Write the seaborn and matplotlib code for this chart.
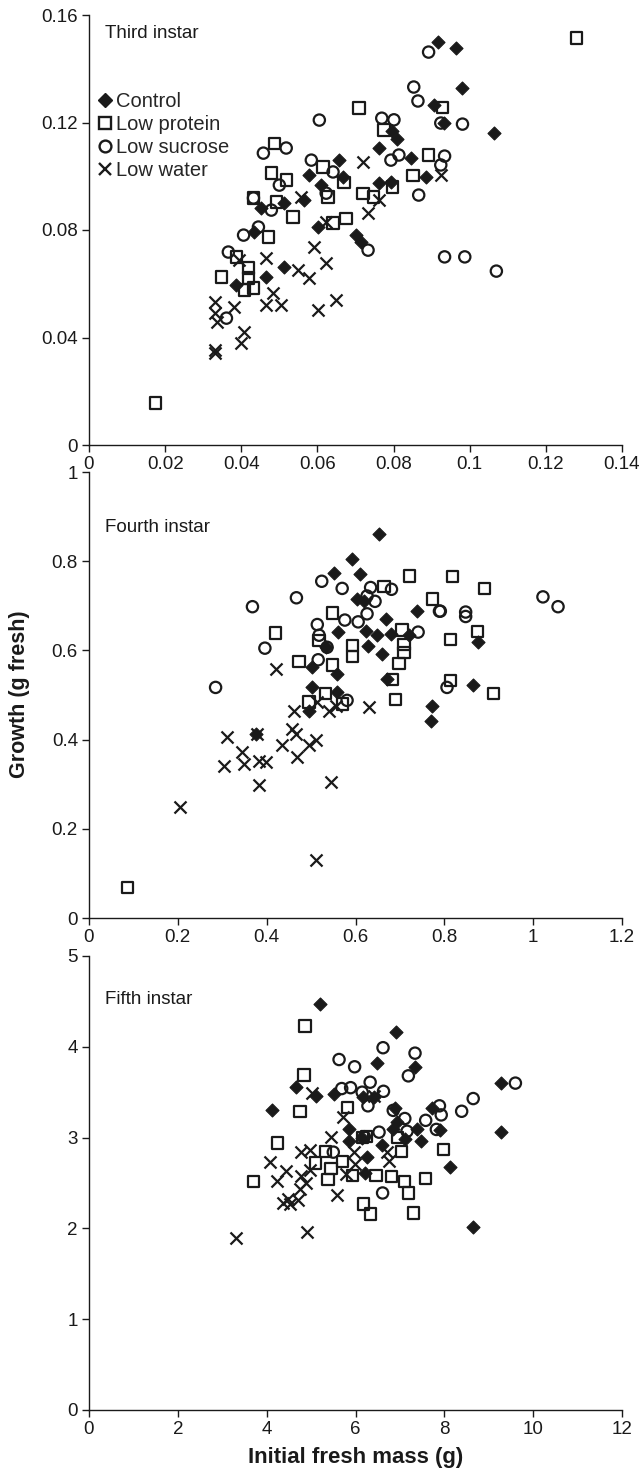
import numpy as np
import pandas as pd
import matplotlib
matplotlib.use("Agg")
import matplotlib.pyplot as plt
from matplotlib.lines import Line2D
import seaborn as sns

sns.set_theme(style="ticks")
plt.rcParams['font.family'] = ['Liberation Sans', 'DejaVu Sans']

treatments = ["Control", "Low protein", "Low sucrose", "Low water"]

# ---------------- Third instar ----------------
p1_control_x = [0.0762, 0.0657, 0.0578, 0.0667, 0.0610, 0.0762, 0.0565, 0.0513, 0.0453, 0.0602, 0.0701, 0.0714,
                0.0434, 0.0513, 0.0466, 0.0387, 0.0916, 0.0963, 0.0979, 0.0905, 0.0932, 0.1063, 0.0795, 0.0810,
                0.0845, 0.0885, 0.0793]
p1_control_y = [0.1105, 0.1060, 0.1004, 0.0997, 0.0967, 0.0975, 0.0911, 0.0900, 0.0882, 0.0811, 0.0780, 0.0755,
                0.0792, 0.0662, 0.0625, 0.0595, 0.1500, 0.1477, 0.1328, 0.1265, 0.1198, 0.1161, 0.1170, 0.1140,
                0.1068, 0.0997, 0.0978]
p1_protein_x = [0.1280, 0.0929, 0.0775, 0.0892, 0.0851, 0.0798, 0.0709, 0.0487, 0.0479, 0.0518, 0.0615, 0.0670,
                0.0628, 0.0720, 0.0748, 0.0675, 0.0641, 0.0536, 0.0492, 0.0432, 0.0471, 0.0387, 0.0419, 0.0348,
                0.0419, 0.0408, 0.0432, 0.0175]
p1_protein_y = [0.1514, 0.1257, 0.1172, 0.1079, 0.1004, 0.0960, 0.1254, 0.1123, 0.1012, 0.0986, 0.1034, 0.0978,
                0.0923, 0.0937, 0.0923, 0.0844, 0.0826, 0.0848, 0.0904, 0.0919, 0.0774, 0.0700, 0.0659, 0.0625,
                0.0621, 0.0577, 0.0584, 0.0156]
p1_sucrose_x = [0.0892, 0.0853, 0.0864, 0.0981, 0.0924, 0.0769, 0.0801, 0.0814, 0.0793, 0.0934, 0.0924, 0.0866,
                0.0934, 0.0987, 0.1070, 0.0605, 0.0458, 0.0518, 0.0584, 0.0641, 0.0500, 0.0623, 0.0432, 0.0479,
                0.0406, 0.0445, 0.0366, 0.0733, 0.0361]
p1_sucrose_y = [0.1462, 0.1332, 0.1280, 0.1194, 0.1198, 0.1216, 0.1210, 0.1079, 0.1060, 0.1075, 0.1042, 0.0930,
                0.0700, 0.0700, 0.0647, 0.1209, 0.1086, 0.1105, 0.1060, 0.1016, 0.0967, 0.0937, 0.0919, 0.0874,
                0.0781, 0.0811, 0.0718, 0.0725, 0.0472]
p1_water_x = [0.0720, 0.0557, 0.0623, 0.0733, 0.0762, 0.0591, 0.0623, 0.0466, 0.0395, 0.0550, 0.0578, 0.0484,
              0.0466, 0.0505, 0.0602, 0.0649, 0.0330, 0.0330, 0.0335, 0.0382, 0.0406, 0.0400, 0.0330, 0.0330,
              0.0924]
p1_water_y = [0.1053, 0.0923, 0.0829, 0.0863, 0.0911, 0.0737, 0.0677, 0.0696, 0.0688, 0.0651, 0.0621, 0.0565,
              0.0520, 0.0520, 0.0502, 0.0540, 0.0532, 0.0490, 0.0458, 0.0513, 0.0420, 0.0380, 0.0353, 0.0342,
              0.1004]

# ---------------- Fourth instar ----------------
p2_control_x = [0.653, 0.591, 0.551, 0.611, 0.604, 0.619, 0.668, 0.739, 0.561, 0.623, 0.649, 0.679, 0.720, 0.629,
                0.660, 0.533, 0.503, 0.559, 0.503, 0.559, 0.671, 0.495, 0.773, 0.771, 0.876, 0.865, 0.375]
p2_control_y = [0.860, 0.805, 0.773, 0.771, 0.715, 0.710, 0.670, 0.688, 0.642, 0.644, 0.634, 0.636, 0.634, 0.609,
                0.591, 0.607, 0.563, 0.547, 0.519, 0.507, 0.535, 0.464, 0.476, 0.442, 0.618, 0.523, 0.413]
p2_protein_x = [0.086, 0.420, 0.722, 0.664, 0.548, 0.518, 0.593, 0.593, 0.705, 0.709, 0.709, 0.698, 0.683, 0.690,
                0.473, 0.548, 0.533, 0.495, 0.570, 0.773, 0.818, 0.891, 0.814, 0.874, 0.814, 0.911]
p2_protein_y = [0.068, 0.639, 0.767, 0.744, 0.684, 0.622, 0.611, 0.587, 0.646, 0.614, 0.595, 0.571, 0.535, 0.490,
                0.575, 0.567, 0.503, 0.484, 0.480, 0.715, 0.765, 0.739, 0.625, 0.642, 0.533, 0.503]
p2_sucrose_x = [0.285, 0.368, 0.396, 0.524, 0.570, 0.467, 0.634, 0.681, 0.626, 0.644, 0.626, 0.606, 0.576, 0.514,
                0.518, 0.536, 0.516, 0.741, 0.789, 0.581, 0.791, 0.848, 0.848, 1.022, 1.056, 0.806]
p2_sucrose_y = [0.517, 0.698, 0.605, 0.755, 0.739, 0.718, 0.741, 0.737, 0.722, 0.710, 0.682, 0.664, 0.668, 0.658,
                0.634, 0.607, 0.579, 0.641, 0.688, 0.488, 0.688, 0.686, 0.676, 0.720, 0.698, 0.517]
p2_water_x = [0.206, 0.422, 0.311, 0.345, 0.304, 0.349, 0.383, 0.398, 0.383, 0.435, 0.379, 0.630, 0.540, 0.461,
              0.514, 0.555, 0.458, 0.465, 0.469, 0.495, 0.510, 0.544, 0.510]
p2_water_y = [0.248, 0.559, 0.405, 0.373, 0.341, 0.345, 0.353, 0.349, 0.298, 0.389, 0.413, 0.473, 0.464, 0.464,
              0.484, 0.476, 0.424, 0.412, 0.361, 0.388, 0.400, 0.305, 0.131]

# ---------------- Fifth instar ----------------
p3_control_x = [5.21, 6.92, 6.48, 7.34, 4.66, 5.10, 5.52, 4.11, 6.17, 6.42, 6.90, 9.28, 9.28, 7.73, 5.85, 5.85,
                6.26, 6.22, 6.85, 7.12, 7.47, 7.38, 8.12, 8.65, 6.59, 7.90, 6.94, 6.15]
p3_control_y = [4.47, 4.16, 3.82, 3.78, 3.56, 3.46, 3.48, 3.30, 3.45, 3.45, 3.33, 3.60, 3.06, 3.33, 3.09, 2.96,
                2.79, 2.61, 3.10, 2.98, 2.96, 3.10, 2.68, 2.01, 2.92, 3.08, 3.17, 3.00]
p3_protein_x = [4.86, 4.84, 4.75, 5.82, 4.24, 3.70, 5.32, 5.10, 5.45, 5.38, 5.71, 5.93, 6.15, 6.46, 6.81, 7.10,
                7.20, 7.58, 7.03, 6.94, 7.98, 6.18, 6.33, 7.31, 6.24]
p3_protein_y = [4.23, 3.69, 3.29, 3.33, 2.94, 2.52, 2.85, 2.72, 2.66, 2.54, 2.74, 2.58, 3.00, 2.58, 2.57, 2.52,
                2.39, 2.55, 2.85, 3.00, 2.87, 2.27, 2.16, 2.17, 3.01]
p3_sucrose_x = [6.62, 5.63, 5.98, 7.34, 7.19, 6.33, 6.63, 5.89, 5.69, 6.15, 6.28, 6.85, 7.11, 7.58, 7.89, 7.93,
                7.82, 8.39, 8.65, 9.60, 6.53, 6.20, 5.50, 6.61, 7.16]
p3_sucrose_y = [3.99, 3.86, 3.78, 3.93, 3.68, 3.61, 3.51, 3.55, 3.54, 3.50, 3.35, 3.30, 3.21, 3.19, 3.35, 3.25,
                3.09, 3.29, 3.43, 3.60, 3.06, 3.01, 2.84, 2.39, 3.07]
p3_water_x = [3.32, 4.90, 4.07, 4.24, 4.44, 4.36, 4.53, 4.71, 4.75, 4.77, 4.77, 4.97, 4.97, 4.88, 5.01, 5.45,
              5.58, 5.71, 5.78, 5.96, 5.98, 6.42, 6.72, 6.76, 4.49]
p3_water_y = [1.89, 1.96, 2.73, 2.52, 2.63, 2.28, 2.27, 2.31, 2.43, 2.58, 2.84, 2.86, 2.64, 2.50, 3.49, 3.01,
              2.37, 3.23, 2.60, 2.84, 2.71, 3.46, 2.84, 2.74, 2.32]

panels = [
    dict(title="Third instar",
         data=[(p1_control_x, p1_control_y), (p1_protein_x, p1_protein_y),
               (p1_sucrose_x, p1_sucrose_y), (p1_water_x, p1_water_y)],
         xticks=[0, 0.02, 0.04, 0.06, 0.08, 0.1, 0.12, 0.14],
         xlabels=["0", "0.02", "0.04", "0.06", "0.08", "0.1", "0.12", "0.14"],
         yticks=[0, 0.04, 0.08, 0.12, 0.16],
         ylabels=["0", "0.04", "0.08", "0.12", "0.16"],
         title_y=0.957),
    dict(title="Fourth instar",
         data=[(p2_control_x, p2_control_y), (p2_protein_x, p2_protein_y),
               (p2_sucrose_x, p2_sucrose_y), (p2_water_x, p2_water_y)],
         xticks=[0, 0.2, 0.4, 0.6, 0.8, 1.0, 1.2],
         xlabels=["0", "0.2", "0.4", "0.6", "0.8", "1", "1.2"],
         yticks=[0, 0.2, 0.4, 0.6, 0.8, 1.0],
         ylabels=["0", "0.2", "0.4", "0.6", "0.8", "1"],
         title_y=0.875),
    dict(title="Fifth instar",
         data=[(p3_control_x, p3_control_y), (p3_protein_x, p3_protein_y),
               (p3_sucrose_x, p3_sucrose_y), (p3_water_x, p3_water_y)],
         xticks=[0, 2, 4, 6, 8, 10, 12],
         xlabels=["0", "2", "4", "6", "8", "10", "12"],
         yticks=[0, 1, 2, 3, 4, 5],
         ylabels=["0", "1", "2", "3", "4", "5"],
         title_y=0.905),
]

INK = "#1a1a1a"
styles = {
    "Control": dict(marker="D", s=44, color=INK, edgecolor=INK, linewidth=0.8),
    "Low protein": dict(marker="s", s=66, color=INK, facecolor="none", edgecolor=INK, linewidth=1.6),
    "Low sucrose": dict(marker="o", s=66, color=INK, facecolor="none", edgecolor=INK, linewidth=1.6),
    "Low water": dict(marker="x", s=75, color=INK, linewidth=1.6),
}

W, H = 643, 1474
fig = plt.figure(figsize=(W / 100, H / 100), dpi=100)
left, right = 89, 622
boxes = [(15, 445), (472, 918), (956, 1410)]

axes = []
for (top, bot), pdef in zip(boxes, panels):
    ax = fig.add_axes([left / W, 1 - bot / H, (right - left) / W, (bot - top) / H])
    axes.append(ax)
    for name, (xs, ys) in zip(treatments, pdef["data"]):
        st = dict(styles[name])
        sns.scatterplot(x=np.array(xs), y=np.array(ys), ax=ax, legend=False, zorder=3, **st)
        if name in ("Low protein", "Low sucrose"):
            ax.collections[-1].set_facecolor("none")
    ax.set_xlim(pdef["xticks"][0], pdef["xticks"][-1])
    ax.set_ylim(pdef["yticks"][0], pdef["yticks"][-1])
    ax.set_xticks(pdef["xticks"])
    ax.set_xticklabels(pdef["xlabels"])
    ax.set_yticks(pdef["yticks"])
    ax.set_yticklabels(pdef["ylabels"])
    ax.tick_params(axis="both", direction="out", length=5, width=1, labelsize=13.5,
                   colors=INK, pad=3)
    for sp in ["top", "right"]:
        ax.spines[sp].set_visible(False)
    for sp in ["left", "bottom"]:
        ax.spines[sp].set_linewidth(1.0)
        ax.spines[sp].set_color(INK)
    ax.set_xlabel("")
    ax.set_ylabel("")
    ax.text(0.03, pdef["title_y"], pdef["title"], transform=ax.transAxes,
            fontsize=13.5, color=INK, va="center", ha="left")

# legend in first panel
handles = [
    Line2D([], [], linestyle="none", marker="D", markersize=7, color=INK),
    Line2D([], [], linestyle="none", marker="s", markersize=8.5, markerfacecolor="none",
           markeredgecolor=INK, markeredgewidth=1.7),
    Line2D([], [], linestyle="none", marker="o", markersize=8.5, markerfacecolor="none",
           markeredgecolor=INK, markeredgewidth=1.7),
    Line2D([], [], linestyle="none", marker="x", markersize=9, color=INK, markeredgewidth=1.7),
]
axes[0].legend(handles, treatments, loc="upper left", bbox_to_anchor=(0.0, 0.84),
               frameon=False, fontsize=14.5, handlelength=0.75, handletextpad=0.2,
               labelspacing=0.2, borderaxespad=0.2, borderpad=0.2)

fig.text(20 / W, 1 - 694 / H, "Growth (g fresh)", rotation=90, fontsize=15.5,
         fontweight="bold", ha="center", va="center", color=INK)
fig.text((left + right) / 2 / W, 1 - 1458 / H, "Initial fresh mass (g)", fontsize=16,
         fontweight="bold", ha="center", va="center", color=INK)

fig.savefig("out.png", dpi=100, facecolor="white")
